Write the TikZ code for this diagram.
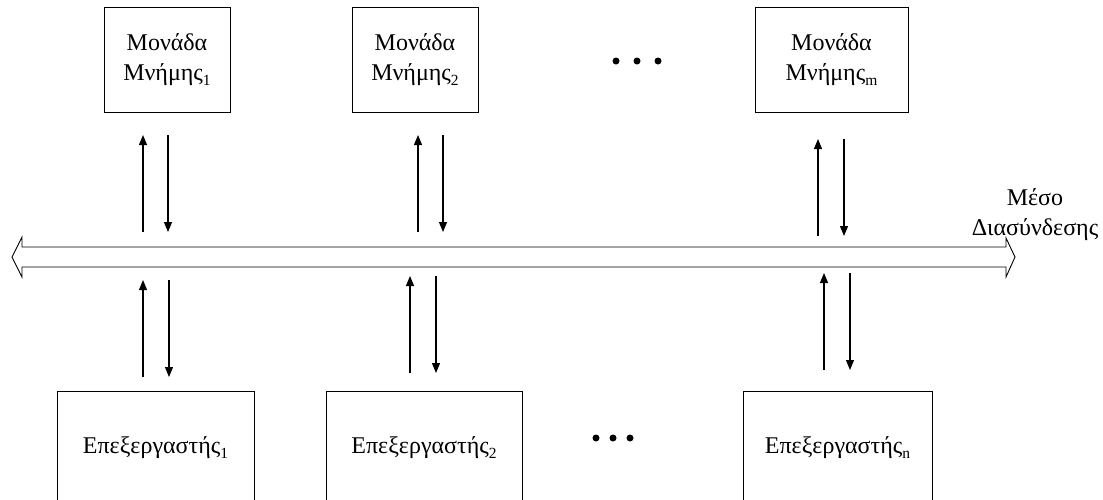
\documentclass[tikz,border=0pt]{standalone}
\usepackage{fontspec}
\setmainfont{Liberation Serif}
\usetikzlibrary{arrows.meta}
% small lowered index after a word
\newcommand{\idx}[1]{\raisebox{-0.2em}{\fontsize{15.5}{15.5}\selectfont #1}}
\begin{document}
\begin{tikzpicture}[x=1pt,y=-1pt,
  unit/.style={draw, line width=0.9pt, inner sep=0pt, align=center,
    font=\fontsize{24}{30}\selectfont},
  cpu/.style={draw, line width=0.9pt, inner sep=0pt,
    font=\fontsize{24}{30}\selectfont, minimum height=114pt},
  link/.style={line width=1.1pt, -{Triangle[length=10pt,width=8pt]}},
  dot/.style={circle, fill=black, inner sep=0pt, minimum size=7pt}]
\useasboundingbox (0,0) rectangle (1103,499);
\clip (0,0) rectangle (1103,499);

% memory modules
\node[unit, minimum width=126pt, minimum height=105pt] (m1) at (167,60) {Μονάδα\\Μνήμης\idx{1}};
\node[unit, minimum width=126pt, minimum height=105pt] (m2) at (415,60) {Μονάδα\\Μνήμης\idx{2}};
\node[unit, minimum width=153pt, minimum height=105pt] (mm) at (831.5,60) {Μονάδα\\Μνήμης\idx{m}};
\node[dot] (td1) at (616,61) {};
\node[dot] (td2) at (637,61) {};
\node[dot] (td3) at (658,61) {};

% processors
\node[cpu, minimum width=197pt] (p1) at (155.5,448) {Επεξεργαστής\idx{1}};
\node[cpu, minimum width=196pt] (p2) at (424,448) {Επεξεργαστής\idx{2}};
\node[cpu, minimum width=189pt] (pn) at (837.5,448) {Επεξεργαστής\idx{n}};
\node[dot] (bd1) at (596,438) {};
\node[dot] (bd2) at (613,438) {};
\node[dot] (bd3) at (630,438) {};

% interconnection bus
\draw[line width=0.9pt, fill=white]
  (12,257) -- (22,237) -- (22,247) -- (1006,247) -- (1006,238) -- (1015,257)
  -- (1006,277) -- (1006,267) -- (22,267) -- (22,277) -- cycle;
\node[align=center, anchor=south, inner sep=0pt, font=\fontsize{24}{30}\selectfont]
  (bus) at (1035,241) {Μέσο\\Διασύνδεσης};

% memory <-> bus
\coordinate (a1) at (143,232); \coordinate (b1) at (143,135);
\coordinate (c1) at (168,135); \coordinate (d1) at (168,232);
\coordinate (a2) at (418,232); \coordinate (b2) at (418,135);
\coordinate (c2) at (443,135); \coordinate (d2) at (443,232);
\coordinate (am) at (818,236); \coordinate (bm) at (818,139);
\coordinate (cm) at (844,139); \coordinate (dm) at (844,236);
\draw[link] (a1) -- (b1); \draw[link] (c1) -- (d1);
\draw[link] (a2) -- (b2); \draw[link] (c2) -- (d2);
\draw[link] (am) -- (bm); \draw[link] (cm) -- (dm);

% processor <-> bus
\coordinate (e1) at (143,377); \coordinate (f1) at (143,280);
\coordinate (g1) at (169,280); \coordinate (h1) at (169,377);
\coordinate (e2) at (410,373); \coordinate (f2) at (410,276);
\coordinate (g2) at (436,276); \coordinate (h2) at (436,373);
\coordinate (en) at (824,370); \coordinate (fn) at (824,273);
\coordinate (gn) at (850,273); \coordinate (hn) at (850,370);
\draw[link] (e1) -- (f1); \draw[link] (g1) -- (h1);
\draw[link] (e2) -- (f2); \draw[link] (g2) -- (h2);
\draw[link] (en) -- (fn); \draw[link] (gn) -- (hn);
\end{tikzpicture}
\end{document}
